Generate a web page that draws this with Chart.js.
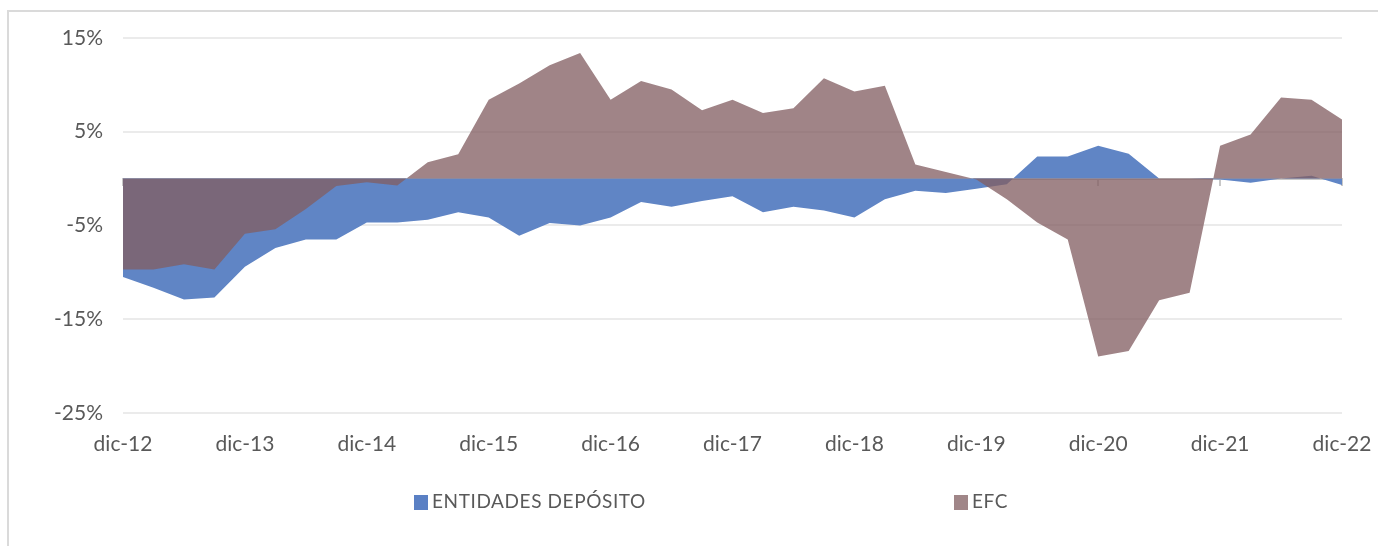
<!DOCTYPE html>
<html>
<head>
<meta charset="utf-8">
<script src="https://cdn.jsdelivr.net/npm/chart.js@4"></script>
<style>
  html, body { margin: 0; padding: 0; background: #fff; overflow: hidden; }
  #wrap { position: relative; width: 1378px; height: 546px; }
  #frame { position: absolute; left: 7px; top: 10px; width: 1500px; height: 700px;
           border-top: 2px solid #dadada; border-left: 2px solid #dadada; }
  .leg { position: absolute; top: 490px; font-family: Lato, sans-serif; font-size: 19px;
         color: #595959; line-height: 22px; white-space: nowrap; letter-spacing: 0.6px; }
  .leg i { display: inline-block; width: 14px; height: 15px; vertical-align: -2px; margin-right: 4px; }
</style>
</head>
<body>
<div id="wrap">
  <div id="frame"></div>
  <canvas id="flujosChart"></canvas>
  <div class="leg" style="left:414px"><i style="background:#5a80c4"></i>ENTIDADES DEPÓSITO</div>
  <div class="leg" style="left:954px"><i style="background:#a08688"></i>EFC</div>
</div>
<script>
// quarterly, dic-12 .. dic-22
var quarters = [
    'dic-12', 'mar-13', 'jun-13', 'sep-13',
    'dic-13', 'mar-14', 'jun-14', 'sep-14',
    'dic-14', 'mar-15', 'jun-15', 'sep-15',
    'dic-15', 'mar-16', 'jun-16', 'sep-16',
    'dic-16', 'mar-17', 'jun-17', 'sep-17',
    'dic-17', 'mar-18', 'jun-18', 'sep-18',
    'dic-18', 'mar-19', 'jun-19', 'sep-19',
    'dic-19', 'mar-20', 'jun-20', 'sep-20',
    'dic-20', 'mar-21', 'jun-21', 'sep-21',
    'dic-21', 'mar-22', 'jun-22', 'sep-22',
    'dic-22'
];

var entidadesDeposito = [
    -10.5, -11.65, -12.9, -12.7,
    -9.4, -7.4, -6.5, -6.5,
    -4.7, -4.7, -4.4, -3.6,
    -4.15, -6.1, -4.75, -5.0,
    -4.15, -2.5, -3.0, -2.4,
    -1.9, -3.6, -3.0, -3.4,
    -4.15, -2.2, -1.3, -1.55,
    -1.1, -0.6, 2.35, 2.35,
    3.5, 2.65, 0, 0,
    -0.1, -0.45, 0, 0.3,
    -0.7
];

var efc = [
    -9.7, -9.7, -9.15, -9.7,
    -5.9, -5.4, -3.25, -0.8,
    -0.4, -0.75, 1.75, 2.6,
    8.4, 10.15, 12.1, 13.4,
    8.4, 10.4, 9.5, 7.3,
    8.4, 7.0, 7.5, 10.7,
    9.3, 9.9, 1.5, 0.7,
    -0.1, -2.2, -4.7, -6.5,
    -19.0, -18.4, -13.0, -12.2,
    3.5, 4.7, 8.65, 8.4,
    6.3
];

var yTicks = [-25, -15, -5, 5, 15];

var labelFont = { family: 'Lato', size: 21 };

// keep the plot edges where the padding puts them
function noSidePadding(scale) {
    scale.paddingLeft = 0;
    scale.paddingRight = 0;
}

var ctx = document.getElementById('flujosChart').getContext('2d');

new Chart(ctx, {
    type: 'line',
    data: {
        labels: quarters,
        datasets: [{
            label: 'ENTIDADES DEPÓSITO',
            data: entidadesDeposito,
            backgroundColor: 'rgb(96, 133, 197)',
            borderWidth: 0,
            pointRadius: 0,
            fill: 'origin',
            tension: 0,
            order: 1,
        }, {
            label: 'EFC',
            data: efc,
            backgroundColor: 'rgba(130, 93, 97, 0.76)',
            borderWidth: 0,
            pointRadius: 0,
            fill: 'origin',
            tension: 0,
            order: 0,
        }],
    },
    options: {
        responsive: true,
        maintainAspectRatio: false,
        animation: false,
        layout: {
            padding: { left: 0, right: 36, top: 38, bottom: 70 },
        },
        plugins: {
            legend: { display: false },
            tooltip: { enabled: false },
        },
        scales: {
            x: {
                type: 'category',
                offset: false,
                afterFit: noSidePadding,
                grid: { display: false, drawTicks: false },
                border: { display: false },
                ticks: {
                    autoSkip: false,
                    maxRotation: 0,
                    padding: 19,
                    color: '#595959',
                    font: labelFont,
                    callback: function (value, index) {
                        return index % 4 === 0 ? quarters[index] : '';
                    },
                },
            },
            // category axis line sitting on 0%
            x2: {
                type: 'category',
                position: { y: 0 },
                offset: false,
                z: 1,
                afterFit: noSidePadding,
                grid: {
                    display: true,
                    drawOnChartArea: false,
                    drawTicks: true,
                    tickLength: 6,
                    lineWidth: 2,
                    color: function (context) {
                        return context.index % 4 === 0 ? '#c8c8c8' : 'rgba(0,0,0,0)';
                    },
                },
                border: { display: true, color: '#c8c8c8', width: 2 },
                ticks: { display: false },
            },
            y: {
                min: -25,
                max: 15,
                afterFit: function (scale) { scale.width = 123; },
                afterBuildTicks: function (scale) {
                    scale.ticks = yTicks.map(v => ({ value: v }));
                },
                grid: { color: '#ebebeb', lineWidth: 2, drawTicks: false },
                border: { display: false },
                ticks: {
                    padding: 20,
                    color: '#595959',
                    font: labelFont,
                    callback: function (value) {
                        return value + '%';
                    },
                },
            },
        },
    },
});
</script>
</body>
</html>
